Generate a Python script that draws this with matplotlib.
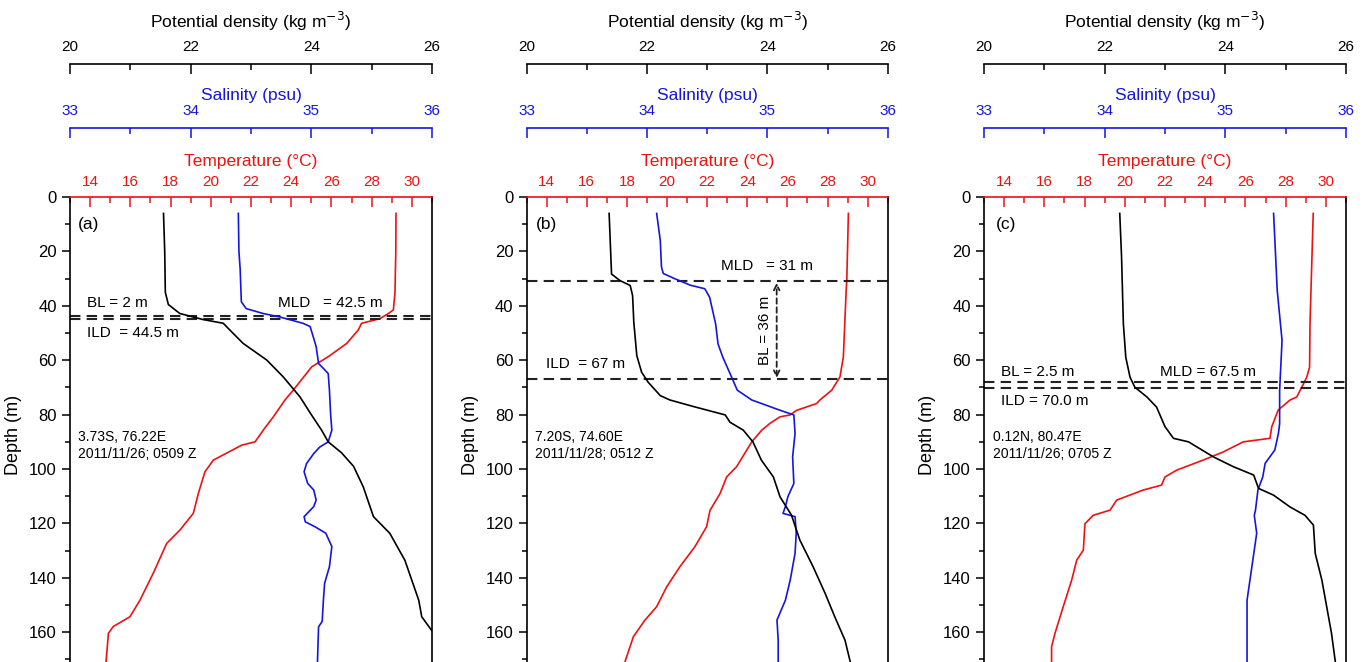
import matplotlib
matplotlib.use('Agg')
import matplotlib.pyplot as plt
from matplotlib.ticker import MultipleLocator

plt.rcParams['font.family'] = ['Liberation Sans', 'DejaVu Sans']

RED = '#ee1111'
BLUE = '#1515dd'

# (a) 3.73S, 76.22E ------------------------------------------------
a_t_z = [6, 20, 35, 41.5, 42.8, 44.7, 46.4, 48.9, 53.8, 58.7, 62.4, 71, 74.6, 80.8, 85.7,
         90, 91.2, 96.7, 101, 109, 116.3, 122.4, 127.3, 138.3, 148.2, 154.3, 157.9, 160.4, 172]
a_t = [29.21, 29.2, 29.16, 29.08, 28.83, 28.41, 27.5, 27.33, 26.76, 25.84, 25.02, 24.1, 23.69, 23.11, 22.61,
       22.2, 21.54, 20.13, 19.71, 19.38, 19.13, 18.47, 17.81, 17.14, 16.48, 15.98, 15.15, 14.91, 14.78]
a_s_z = [6, 20, 26.3, 38.5, 41, 42.8, 44.1, 46.4, 47.6, 52, 55, 61.2, 63, 64.9, 71, 80, 85.7,
         90, 91.9, 94.3, 98, 101, 105.3, 107.7, 111.4, 113.8, 117.5, 119.4, 121.2, 123.6, 128.5,
         135.9, 142, 148.2, 156, 158, 172]
a_s = [34.395, 34.40, 34.41, 34.42, 34.46, 34.60, 34.74, 34.93, 34.99, 35.02, 35.04, 35.06, 35.10, 35.14, 35.15, 35.16, 35.17,
       35.14, 35.07, 35.02, 34.96, 34.94, 34.97, 35.02, 35.04, 35.02, 34.94, 34.95, 35.03, 35.12, 35.17,
       35.15, 35.11, 35.10, 35.09, 35.06, 35.05]
a_d_z = [6, 20, 35, 39.5, 42.8, 45, 46.4, 48.9, 53.8, 59.9, 66, 73.4, 80, 85.7, 90, 94, 99,
         106.5, 117.5, 123.6, 133.5, 148.2, 154.3, 159.2, 165, 172]
a_d = [21.55, 21.57, 21.58, 21.63, 21.82, 22.2, 22.54, 22.65, 22.87, 23.26, 23.53, 23.81, 24.0, 24.17, 24.28, 24.5, 24.7,
       24.86, 25.03, 25.3, 25.55, 25.78, 25.83, 25.99, 26.2, 26.4]

# (b) 7.20S, 74.60E ------------------------------------------------
b_t_z = [6, 30.6, 34.2, 58.7, 66.1, 71, 74.6, 75.9, 78.4, 80.1, 80.8, 83.2, 85.7, 90, 99.1,
         102.9, 109, 115.2, 121.2, 128.5, 135.9, 143.3, 150.6, 155.5, 161.6, 172]
b_t = [29.04, 28.96, 28.93, 28.79, 28.62, 28.21, 27.62, 27.46, 26.46, 26.13, 25.63, 25.13, 24.72, 24.22, 23.47,
       22.97, 22.64, 22.14, 21.97, 21.39, 20.64, 19.98, 19.48, 18.9, 18.32, 17.85]
b_s_z = [6, 15.9, 25.7, 28.1, 30, 32.4, 33.7, 36.8, 46.6, 54, 58.9, 64.9, 71, 74.6, 78.3, 80.1,
         86.9, 95.5, 105.3, 110.2, 113.8, 116.3, 117.5, 123.6, 131, 140.8, 148.2, 155.5, 162.9, 172]
b_s = [34.08, 34.11, 34.12, 34.135, 34.23, 34.36, 34.48, 34.52, 34.57, 34.59, 34.63, 34.69, 34.75, 34.87, 35.10, 35.22,
       35.23, 35.21, 35.22, 35.17, 35.15, 35.13, 35.23, 35.24, 35.23, 35.19, 35.15, 35.08, 35.09, 35.09]
b_d_z = [6, 28.3, 30.7, 32.5, 36.2, 46, 58.3, 64.4, 68.1, 73, 74.6, 77, 80.1, 82.8, 85.7, 90, 96.7,
         102.9, 110.2, 116.9, 126.1, 135.9, 145.7, 154.3, 162.9, 172]
b_d = [21.37, 21.41, 21.55, 21.72, 21.76, 21.78, 21.83, 21.91, 22.02, 22.22, 22.38, 22.77, 23.3, 23.38, 23.6, 23.76, 23.9,
       24.1, 24.21, 24.4, 24.54, 24.76, 24.96, 25.12, 25.29, 25.39]

# (c) 0.12N, 80.47E ------------------------------------------------
c_t_z = [6, 46.6, 62.5, 66.2, 69.9, 73.5, 74.6, 78.3, 84.4, 88.7, 90, 93.7, 96.7, 100.4, 102.9,
         105.9, 107.7, 111.4, 115.1, 117, 120.1, 129.8, 133.5, 140.8, 150.6, 160.4, 165.3, 172]
c_t = [29.37, 29.21, 29.19, 29.05, 28.8, 28.55, 28.22, 27.63, 27.31, 27.22, 25.89, 24.9, 23.9, 22.58, 22.0,
       21.83, 20.92, 19.6, 19.27, 18.43, 18.02, 17.94, 17.61, 17.36, 16.94, 16.53, 16.36, 16.36]
c_s_z = [6, 34.3, 52.7, 71, 83.3, 86.9, 93, 97.9, 102.9, 107.7, 115.1, 117, 123.6, 135.9, 148.2, 172]
c_s = [35.40, 35.43, 35.47, 35.45, 35.45, 35.44, 35.41, 35.33, 35.31, 35.27, 35.25, 35.24, 35.26, 35.22, 35.18, 35.18]
c_d_z = [6, 22, 46.6, 58.9, 66.2, 69.9, 73.5, 77.2, 84.4, 88.7, 90, 95.5, 99.1, 102.2, 107.1,
         109.6, 113.9, 117, 120.6, 131, 140.8, 150.6, 160.4, 172]
c_d = [22.25, 22.28, 22.31, 22.35, 22.42, 22.5, 22.7, 22.86, 23.0, 23.14, 23.39, 23.8, 24.13, 24.47, 24.55,
       24.8, 25.07, 25.32, 25.46, 25.49, 25.6, 25.68, 25.76, 25.83]

# profondeurs des lignes MLD / ILD
a_lines = [43.6, 44.9]
b_lines = [31, 67]
c_lines = [67.9, 70.1]


fig = plt.figure(figsize=(13.64, 6.62), dpi=100)


def panel(left, width, tz, t, sz, s, dz, d, lines):
    ax = fig.add_axes([left, -0.0167, width, 0.719])
    ax.set_ylim(175, 0)
    ax.set_xlim(13, 31)
    ax.plot(t, tz, color=RED, lw=1.2)

    # salinité
    ax_s = ax.twiny()
    ax_s.set_xlim(33, 36)
    ax_s.plot(s, sz, color=BLUE, lw=1.2)
    # densité
    ax_d = ax.twiny()
    ax_d.set_xlim(20, 26)
    ax_d.plot(d, dz, color='black', lw=1.2)

    for y in lines:
        ax.axhline(y, color='#222222', ls=(0, (5, 3)), lw=1.5)

    # axe temperature (haut du cadre)
    ax.xaxis.tick_top()
    ax.xaxis.set_label_position('top')
    ax.set_xticks(range(14, 31, 2))
    ax.xaxis.set_minor_locator(MultipleLocator(1))
    ax.tick_params(axis='x', which='both', direction='in', colors=RED, top=True, bottom=False,
                   labeltop=True, labelbottom=False, labelsize=11, pad=6)
    ax.tick_params(axis='x', which='major', length=7, width=1.1)
    ax.tick_params(axis='x', which='minor', length=4, width=1.1)
    ax.set_xlabel('Temperature (°C)', color=RED, fontsize=12.5, labelpad=6)
    ax.spines['top'].set_color(RED)
    ax.spines['bottom'].set_visible(False)
    for sp in ['top', 'left', 'right']:
        ax.spines[sp].set_linewidth(1.2)

    # axe profondeur
    ax.yaxis.set_major_locator(MultipleLocator(20))
    ax.yaxis.set_minor_locator(MultipleLocator(10))
    ax.tick_params(axis='y', which='both', direction='out', left=True, right=False, labelsize=12, width=1.1)
    ax.tick_params(axis='y', which='major', length=6)
    ax.tick_params(axis='y', which='minor', length=3.5)
    ax.set_ylabel('Depth (m)', fontsize=13, labelpad=5)

    for tw, col, off, lo, hi, lab, lp, pd in [(ax_s, BLUE, 50, 33, 36, 'Salinity (psu)', 3, 7),
                                              (ax_d, 'black', 96, 20, 26, 'Potential density (kg m$^{-3}$)', 9, 7)]:
        for sp in ['left', 'right', 'bottom']:
            tw.spines[sp].set_visible(False)
        tw.spines['top'].set_position(('outward', off))
        tw.spines['top'].set_color(col)
        tw.spines['top'].set_linewidth(1.2)
        step = (hi - lo) / 3
        tw.set_xticks([lo + i * step for i in range(4)])
        tw.xaxis.set_minor_locator(MultipleLocator(step / 2))
        tw.tick_params(axis='x', which='both', direction='in', colors=col, labelsize=11, pad=pd)
        tw.tick_params(axis='x', which='major', length=7, width=1.1)
        tw.tick_params(axis='x', which='minor', length=4, width=1.1)
        tw.set_xlabel(lab, color=col, fontsize=12.5, labelpad=lp)
    return ax


ax_a = panel(70 / 1364, 362 / 1364, a_t_z, a_t, a_s_z, a_s, a_d_z, a_d, a_lines)
ax_b = panel(526.7 / 1364, 361 / 1364, b_t_z, b_t, b_s_z, b_s, b_d_z, b_d, b_lines)
ax_c = panel(984 / 1364, 362 / 1364, c_t_z, c_t, c_s_z, c_s, c_d_z, c_d, c_lines)

fs = 11
# (a)
tr = ax_a.get_yaxis_transform()
ax_a.text(0.022, 10, '(a)', transform=tr, fontsize=12.5, va='center')
ax_a.text(0.047, 39, 'BL = 2 m', transform=tr, fontsize=fs, va='center')
ax_a.text(0.047, 49.9, 'ILD  = 44.5 m', transform=tr, fontsize=fs, va='center')
ax_a.text(0.575, 39, 'MLD   = 42.5 m', transform=tr, fontsize=fs, va='center')
ax_a.text(0.022, 91.2, '3.73S, 76.22E\n2011/11/26; 0509 Z', transform=tr, fontsize=10, va='center', linespacing=1.25)

# (b)
tr = ax_b.get_yaxis_transform()
ax_b.text(0.026, 10, '(b)', transform=tr, fontsize=12.5, va='center')
ax_b.text(0.538, 25.4, 'MLD   = 31 m', transform=tr, fontsize=fs, va='center')
ax_b.text(0.053, 61.4, 'ILD  = 67 m', transform=tr, fontsize=fs, va='center')
ax_b.annotate('', xy=(0.6925, 31.5), xytext=(0.6925, 66.5), xycoords=tr, textcoords=tr,
              arrowprops=dict(arrowstyle='<->', color='#222222', lw=1.3, ls=(0, (3, 2)), shrinkA=0, shrinkB=0))
ax_b.text(0.66, 49, 'BL = 36 m', transform=tr, fontsize=fs, va='center', ha='center', rotation=90)
ax_b.text(0.023, 91.2, '7.20S, 74.60E\n2011/11/28; 0512 Z', transform=tr, fontsize=10, va='center', linespacing=1.25)

# (c)
tr = ax_c.get_yaxis_transform()
ax_c.text(0.033, 10, '(c)', transform=tr, fontsize=12.5, va='center')
ax_c.text(0.046, 64.2, 'BL = 2.5 m', transform=tr, fontsize=fs, va='center')
ax_c.text(0.486, 64.2, 'MLD = 67.5 m', transform=tr, fontsize=fs, va='center')
ax_c.text(0.046, 74.9, 'ILD = 70.0 m', transform=tr, fontsize=fs, va='center')
ax_c.text(0.026, 91.2, '0.12N, 80.47E\n2011/11/26; 0705 Z', transform=tr, fontsize=10, va='center', linespacing=1.25)

fig.savefig('out.png', dpi=100)
